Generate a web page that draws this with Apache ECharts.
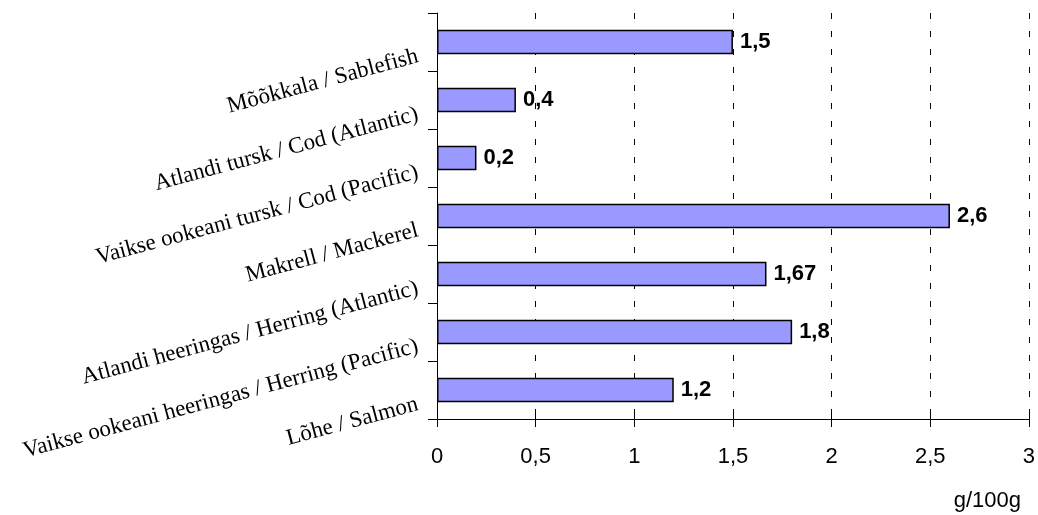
<!DOCTYPE html>
<html><head><meta charset="utf-8">
<script src="https://cdn.jsdelivr.net/npm/echarts@6/dist/echarts.min.js"></script>
<style>html,body{margin:0;padding:0;background:#fff}#c{width:1038px;height:515px}</style>
</head><body><div id="c"></div>
<script>
// bottom-to-top order
const categories = [
  'Lõhe / Salmon',
  'Vaikse ookeani heeringas / Herring (Pacific)',
  'Atlandi heeringas / Herring (Atlantic)',
  'Makrell / Mackerel',
  'Vaikse ookeani tursk / Cod (Pacific)',
  'Atlandi tursk / Cod (Atlantic)',
  'Mõõkkala / Sablefish'
];
const values = [1.2, 1.8, 1.67, 2.6, 0.2, 0.4, 1.5];
const xTicks = [0, 0.5, 1, 1.5, 2, 2.5, 3];
const unitLabel = 'g/100g';

const fmt = v => String(v).replace('.', ',');
const xMin = xTicks[0], xMax = xTicks[xTicks.length - 1];
const chart = echarts.init(document.getElementById('c'), null, {renderer: 'canvas'});
chart.setOption({
  animation: false,
  backgroundColor: '#fff',
  title: {
    text: unitLabel, right: 17, top: 490, padding: 0,
    textStyle: {fontFamily: 'Liberation Sans', fontSize: 22, fontWeight: 'normal', color: '#000'}
  },
  grid: {left: 437, right: 9, top: 13, bottom: 96, containLabel: false},
  xAxis: [{
    type: 'value', min: xMin, max: xMax, interval: 0.5, position: 'bottom',
    axisLine: {show: true, lineStyle: {color: '#000', width: 1}},
    axisTick: {show: true, inside: false, length: 8, lineStyle: {color: '#000'}},
    axisLabel: {
      margin: 27, color: '#000', fontFamily: 'Liberation Sans', fontSize: 22,
      formatter: v => fmt(v)
    },
    splitLine: {show: true, lineStyle: {color: '#000', type: [6, 12], width: 1}}
  }, {
    type: 'value', min: xMin, max: xMax, interval: 0.5, position: 'bottom', offset: 0,
    axisLine: {show: false},
    axisTick: {show: true, inside: true, length: 6, lineStyle: {color: '#000'}},
    axisLabel: {show: false},
    splitLine: {show: false}
  }],
  yAxis: {
    type: 'category', data: categories,
    axisLine: {show: true, lineStyle: {color: '#000', width: 1}},
    axisTick: {show: true, length: 9, lineStyle: {color: '#000'}},
    axisLabel: {
      rotate: 15, margin: 23, color: '#000', fontFamily: 'Liberation Serif', fontSize: 23,
      verticalAlign: 'top', padding: [3, 0, 0, 0], interval: 0
    },
    splitLine: {show: false}
  },
  series: [{
    type: 'bar', data: values, barCategoryGap: '58%', xAxisIndex: 0,
    itemStyle: {color: '#9999FF', borderColor: '#000', borderWidth: 1.5},
    label: {
      show: true, position: 'right', distance: 7, color: '#000',
      fontFamily: 'Liberation Sans', fontWeight: 'bold', fontSize: 22,
      formatter: p => fmt(p.value)
    }
  }]
});
</script></body></html>
